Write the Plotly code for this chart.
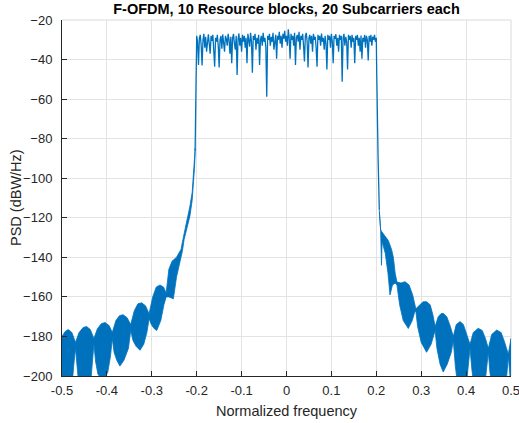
import plotly.graph_objects as go

# ---------------- data ----------------
# In-band PSD samples (dBW/Hz), normalized frequency -0.2 ... 0.2, step 0.002
passband_start = -0.2
passband_step = 0.002
passband_db = [
    -28, -31, -42.8, -29, -27.5, -33, -43, -30, -27, -34,
    -28.5, -36, -29, -27.2, -32, -37, -28, -30.5, -27.5, -35,
    -43.6, -29, -31, -27.5, -33, -44, -30, -28, -34.5, -27.3,
    -31, -36, -28, -29.5, -33, -27, -30, -37, -28.5, -41.8,
    -29, -27, -32, -35, -28, -47.8, -30, -26.8, -33, -29,
    -36, -27.5, -31, -28, -34, -29, -41.8, -27, -30, -33.5,
    -26.5, -31, -46.6, -28, -30, -27, -35, -29, -32, -27.5,
    -42.8, -30, -28, -33, -26.5, -31, -29, -34, -58.8, -28,
    -30, -27, -33, -28.5, -31, -26.5, -35, -29, -27.5, -39.6,
    -28, -30, -26, -32, -28, -34, -27, -29.5, -25.5, -31,
    -28, -33, -24.7, -29, -39.6, -27, -30, -28, -33, -26.5,
    -42.8, -29, -27.5, -31, -26, -35, -28, -30, -27, -33,
    -41, -28, -26.5, -31, -44, -29, -27.5, -32, -28, -36,
    -27, -30, -28.5, -34, -43.6, -27.5, -30, -28, -33, -26.8,
    -31, -29, -35, -28, -32, -45, -27.5, -30, -28, -34,
    -27, -31, -41.8, -28, -29.5, -27.2, -33, -29, -36, -27.5,
    -30, -28, -51.2, -29, -27, -33, -28.5, -31, -45, -27.5,
    -30, -28, -34, -27.5, -31, -29, -41.8, -28, -30, -27.5,
    -33, -29, -36, -27.8, -39.6, -29, -31, -27.5, -34, -28,
    -30, -40.5, -28, -31, -27.5, -33, -28.5, -30, -27.5, -31,
    -29,
]

# Steep band edges
left_edge_f = [-0.2035, -0.2016, -0.2005]
left_edge_db = [-86, -60, -40]
right_edge_f = [0.2008, 0.2015, 0.204, 0.2067]
right_edge_db = [-45, -60, -90, -116]

# Out-of-band region, left side: upper and lower envelope of the dense ripple
left_upper_f = [-0.5, -0.493, -0.486, -0.478, -0.470, -0.462, -0.453, -0.445, -0.437,
                -0.429, -0.421, -0.412, -0.404, -0.395, -0.388, -0.380, -0.372, -0.364,
                -0.355, -0.347, -0.339, -0.331, -0.3225, -0.314, -0.306, -0.298, -0.290,
                -0.2817, -0.274, -0.268, -0.262, -0.255, -0.245, -0.235, -0.228, -0.222,
                -0.215, -0.210, -0.205, -0.2035]
left_upper_db = [-180, -177.5, -176.5, -178, -183, -178, -175.5, -175, -176.5,
                 -181, -176, -173.5, -173, -174.5, -178, -172, -169.5, -169,
                 -170.5, -174, -167, -163.5, -163, -164.5, -168.5, -160, -155,
                 -154, -155, -158, -146, -142, -140, -136, -128, -122,
                 -114, -107, -92, -85]
left_lower_f = [-0.5, -0.478, -0.474, -0.470, -0.466, -0.462, -0.437, -0.433, -0.429,
                -0.425, -0.420, -0.4087, -0.398, -0.392, -0.388, -0.384, -0.378, -0.371,
                -0.362, -0.352, -0.347, -0.342, -0.335, -0.3263, -0.318, -0.311, -0.306,
                -0.301, -0.295, -0.289, -0.280, -0.273, -0.268, -0.262, -0.252, -0.245,
                -0.238, -0.232, -0.228, -0.222, -0.215, -0.210, -0.205, -0.2035]
left_lower_db = [-206, -206, -195, -186, -196, -206, -206, -195, -184,
                 -193, -199, -203, -198, -190, -181, -188, -192, -195,
                 -192, -186, -177, -182, -185, -187, -184, -178, -171,
                 -174, -176, -177, -172, -164, -160, -160, -161, -150,
                 -143, -137, -131, -125, -119, -111, -95, -88]

# Out-of-band region, right side
right_upper_f = [0.2067, 0.2097, 0.212, 0.2194, 0.2267, 0.234, 0.238, 0.242, 0.246,
                 0.255, 0.264, 0.273, 0.281, 0.288, 0.297, 0.304, 0.312, 0.320,
                 0.326, 0.331, 0.338, 0.344, 0.349, 0.357, 0.365, 0.3715, 0.378,
                 0.3864, 0.394, 0.402, 0.4087, 0.416, 0.427, 0.436, 0.443, 0.4495,
                 0.457, 0.468, 0.478, 0.486, 0.494, 0.5]
right_upper_db = [-116, -126, -127, -129.5, -131.5, -136, -140, -148, -152.5,
                  -153, -152.3, -154, -159, -166, -164, -162.5, -162.4, -164,
                  -169, -175, -170, -168.5, -168.3, -170, -175, -180, -174,
                  -172.5, -174, -179, -184, -178, -175.9, -177, -181, -186,
                  -179, -176.8, -178, -183, -189, -181]
right_lower_f = [0.2067, 0.2097, 0.2105, 0.2115, 0.213, 0.220, 0.226, 0.2305, 0.236,
                 0.242, 0.246, 0.252, 0.260, 0.2713, 0.280, 0.285, 0.288, 0.292,
                 0.300, 0.312, 0.322, 0.328, 0.331, 0.335, 0.342, 0.349, 0.358,
                 0.367, 0.3715, 0.376, 0.382, 0.400, 0.405, 0.4087, 0.413, 0.418,
                 0.441, 0.446, 0.4495, 0.453, 0.458, 0.488, 0.492, 0.494, 0.497, 0.5]
right_lower_db = [-117, -127, -128, -144, -132, -138, -148, -159, -154,
                  -153, -154, -164, -172, -176, -172, -168, -167, -175,
                  -183, -188, -184, -179, -177, -186, -194, -198, -194,
                  -188, -182, -195, -206, -206, -196, -186, -197, -206,
                  -206, -196, -188, -198, -206, -206, -196, -190, -198, -206]

x_ticks = [-0.5, -0.4, -0.3, -0.2, -0.1, 0, 0.1, 0.2, 0.3, 0.4, 0.5]
x_tick_text = ["-0.5", "-0.4", "-0.3", "-0.2", "-0.1", "0", "0.1", "0.2", "0.3", "0.4", "0.5"]
y_ticks = [-200, -180, -160, -140, -120, -100, -80, -60, -40, -20]

title_text = "F-OFDM, 10 Resource blocks, 20 Subcarriers each"
x_label = "Normalized frequency"
y_label = "PSD (dBW/Hz)"

# ---------------- figure ----------------
BLUE = "#0072BD"
FONT = "Liberation Sans, Arial, sans-serif"
passband_f = [round(passband_start + passband_step * i, 4) for i in range(len(passband_db))]

fig = go.Figure()

# out-of-band filled ripple regions
fig.add_trace(go.Scatter(
    x=left_upper_f + left_lower_f[::-1], y=left_upper_db + left_lower_db[::-1],
    mode="lines", fill="toself", fillcolor=BLUE,
    line=dict(color=BLUE, width=0.8), hoverinfo="skip", showlegend=False))
fig.add_trace(go.Scatter(
    x=right_upper_f + right_lower_f[::-1], y=right_upper_db + right_lower_db[::-1],
    mode="lines", fill="toself", fillcolor=BLUE,
    line=dict(color=BLUE, width=0.8), hoverinfo="skip", showlegend=False))

# in-band trace with edges
fig.add_trace(go.Scatter(
    x=left_edge_f + passband_f + right_edge_f,
    y=left_edge_db + passband_db + right_edge_db,
    mode="lines", line=dict(color=BLUE, width=1.3), showlegend=False))

axis_common = dict(
    showgrid=True, gridcolor="#E3E3E3", gridwidth=1,
    zeroline=False, showline=True, linecolor="#262626", linewidth=1,
    ticks="inside", ticklen=5, tickcolor="#262626",
    tickfont=dict(family=FONT, size=13, color="#262626"),
    mirror=False, ticklabeloverflow="allow", automargin=False,
)

fig.update_layout(
    width=519, height=423,
    margin=dict(l=62, r=8, t=20, b=47),
    paper_bgcolor="white", plot_bgcolor="white",
    title=dict(text="<b>" + title_text + "</b>", x=0.5, xanchor="center",
               xref="paper", y=1, yref="container", yanchor="top", pad=dict(t=4),
               font=dict(family=FONT, size=14.5, color="#000000")),
    xaxis=dict(range=[-0.5, 0.5], tickvals=x_ticks, ticktext=x_tick_text,
               ticklabelstandoff=2, **axis_common),
    yaxis=dict(range=[-200, -20], tickvals=y_ticks,
               ticklabelstandoff=6, **axis_common),
    annotations=[
        dict(text=x_label, xref="paper", yref="paper", x=0.5, y=-0.099,
             xanchor="center", yanchor="middle", showarrow=False,
             font=dict(family=FONT, size=14.5, color="#262626")),
        dict(text=y_label, xref="paper", yref="paper", x=-0.1024, y=0.5,
             xanchor="center", yanchor="middle", showarrow=False, textangle=-90,
             font=dict(family=FONT, size=14.5, color="#262626")),
    ],
)

# light box lines on top and right (MATLAB grid at limits)
fig.add_shape(type="line", xref="paper", yref="paper", x0=0, x1=1, y0=1, y1=1,
              line=dict(color="#D9D9D9", width=1), layer="below")
fig.add_shape(type="line", xref="paper", yref="paper", x0=1, x1=1, y0=0, y1=1,
              line=dict(color="#D9D9D9", width=1), layer="below")

fig.write_html("out.html")
